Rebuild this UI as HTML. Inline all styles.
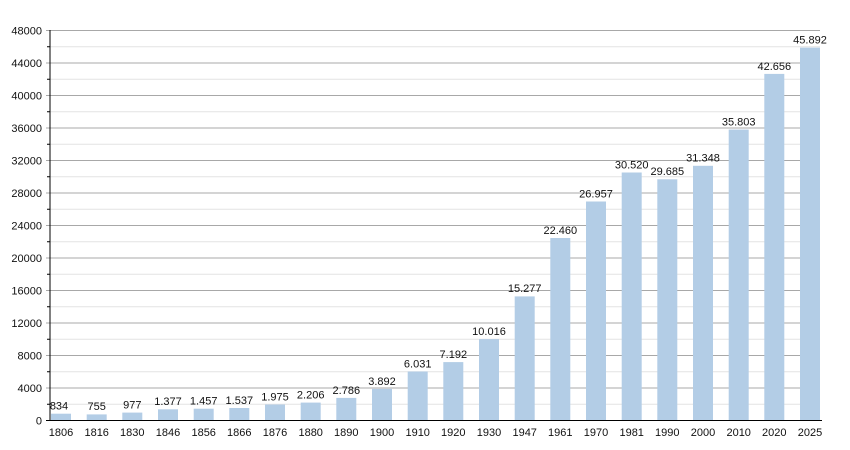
<!DOCTYPE html>
<html><head><meta charset="utf-8"><style>body{margin:0;background:#fff}svg{display:block}text{font-family:"Liberation Sans",sans-serif;font-size:11px;fill:#111}</style></head><body>
<svg width="850" height="450" xmlns="http://www.w3.org/2000/svg">
<g stroke="#e4e4e4" stroke-width="1">
<line x1="50" x2="820" y1="404.25" y2="404.25"/><line x1="50" x2="820" y1="371.75" y2="371.75"/><line x1="50" x2="820" y1="339.25" y2="339.25"/><line x1="50" x2="820" y1="306.75" y2="306.75"/><line x1="50" x2="820" y1="274.25" y2="274.25"/><line x1="50" x2="820" y1="241.75" y2="241.75"/><line x1="50" x2="820" y1="209.25" y2="209.25"/><line x1="50" x2="820" y1="176.75" y2="176.75"/><line x1="50" x2="820" y1="144.25" y2="144.25"/><line x1="50" x2="820" y1="111.75" y2="111.75"/><line x1="50" x2="820" y1="79.25" y2="79.25"/><line x1="50" x2="820" y1="46.75" y2="46.75"/>
</g>
<g stroke="#a8a8a8" stroke-width="1">
<line x1="46" x2="820" y1="388" y2="388"/><line x1="46" x2="820" y1="355.5" y2="355.5"/><line x1="46" x2="820" y1="323" y2="323"/><line x1="46" x2="820" y1="290.5" y2="290.5"/><line x1="46" x2="820" y1="258" y2="258"/><line x1="46" x2="820" y1="225.5" y2="225.5"/><line x1="46" x2="820" y1="193" y2="193"/><line x1="46" x2="820" y1="160.5" y2="160.5"/><line x1="46" x2="820" y1="128" y2="128"/><line x1="46" x2="820" y1="95.5" y2="95.5"/><line x1="46" x2="820" y1="63" y2="63"/><line x1="46" x2="820" y1="30.5" y2="30.5"/>
</g>
<g stroke="#000"><line x1="47" x2="50" y1="404.25" y2="404.25"/><line x1="47" x2="50" y1="371.75" y2="371.75"/><line x1="47" x2="50" y1="339.25" y2="339.25"/><line x1="47" x2="50" y1="306.75" y2="306.75"/><line x1="47" x2="50" y1="274.25" y2="274.25"/><line x1="47" x2="50" y1="241.75" y2="241.75"/><line x1="47" x2="50" y1="209.25" y2="209.25"/><line x1="47" x2="50" y1="176.75" y2="176.75"/><line x1="47" x2="50" y1="144.25" y2="144.25"/><line x1="47" x2="50" y1="111.75" y2="111.75"/><line x1="47" x2="50" y1="79.25" y2="79.25"/><line x1="47" x2="50" y1="46.75" y2="46.75"/></g>
<g fill="#b3cde6">
<rect x="51" y="413.7" width="20" height="6.8"/><rect x="86.7" y="414.4" width="20" height="6.1"/><rect x="122.3" y="412.6" width="20" height="7.9"/><rect x="158" y="409.3" width="20" height="11.2"/><rect x="193.7" y="408.7" width="20" height="11.8"/><rect x="229.3" y="408" width="20" height="12.5"/><rect x="265" y="404.5" width="20" height="16"/><rect x="300.7" y="402.6" width="20" height="17.9"/><rect x="336.3" y="397.9" width="20" height="22.6"/><rect x="372" y="388.9" width="20" height="31.6"/><rect x="407.7" y="371.5" width="20" height="49"/><rect x="443.3" y="362.1" width="20" height="58.4"/><rect x="479" y="339.1" width="20" height="81.4"/><rect x="514.7" y="296.4" width="20" height="124.1"/><rect x="550.3" y="238" width="20" height="182.5"/><rect x="586" y="201.5" width="20" height="219"/><rect x="621.7" y="172.5" width="20" height="248"/><rect x="657.3" y="179.3" width="20" height="241.2"/><rect x="693" y="165.8" width="20" height="254.7"/><rect x="728.7" y="129.6" width="20" height="290.9"/><rect x="764.3" y="73.9" width="20" height="346.6"/><rect x="800" y="47.6" width="20" height="372.9"/>
</g>
<line x1="50" x2="50" y1="30" y2="420.5" stroke="#000"/>
<line x1="46" x2="822" y1="420.5" y2="420.5" stroke="#000"/>
<g text-anchor="end">
<text x="42" y="424.5">0</text><text x="42" y="392">4000</text><text x="42" y="359.5">8000</text><text x="42" y="327">12000</text><text x="42" y="294.5">16000</text><text x="42" y="262">20000</text><text x="42" y="229.5">24000</text><text x="42" y="197">28000</text><text x="42" y="164.5">32000</text><text x="42" y="132">36000</text><text x="42" y="99.5">40000</text><text x="42" y="67">44000</text><text x="42" y="34.5">48000</text>
</g>
<g text-anchor="middle">
<text x="61" y="436">1806</text><text x="96.7" y="436">1816</text><text x="132.3" y="436">1830</text><text x="168" y="436">1846</text><text x="203.7" y="436">1856</text><text x="239.3" y="436">1866</text><text x="275" y="436">1876</text><text x="310.7" y="436">1880</text><text x="346.3" y="436">1890</text><text x="382" y="436">1900</text><text x="417.7" y="436">1910</text><text x="453.3" y="436">1920</text><text x="489" y="436">1930</text><text x="524.7" y="436">1947</text><text x="560.3" y="436">1961</text><text x="596" y="436">1970</text><text x="631.7" y="436">1981</text><text x="667.3" y="436">1990</text><text x="703" y="436">2000</text><text x="738.7" y="436">2010</text><text x="774.3" y="436">2020</text><text x="810" y="436">2025</text>
<text x="59" y="409.5">834</text><text x="96.7" y="410">755</text><text x="132.3" y="408.5">977</text><text x="168" y="405">1.377</text><text x="203.7" y="404.5">1.457</text><text x="239.3" y="404">1.537</text><text x="275" y="400.5">1.975</text><text x="310.7" y="398.5">2.206</text><text x="346.3" y="394">2.786</text><text x="382" y="385">3.892</text><text x="417.7" y="367.5">6.031</text><text x="453.3" y="358">7.192</text><text x="489" y="335">10.016</text><text x="524.7" y="292">15.277</text><text x="560.3" y="234">22.460</text><text x="596" y="197.5">26.957</text><text x="631.7" y="168.5">30.520</text><text x="667.3" y="175">29.685</text><text x="703" y="161.5">31.348</text><text x="738.7" y="125.5">35.803</text><text x="774.3" y="70">42.656</text><text x="810" y="43.5">45.892</text>
</g>
</svg>
</body></html>
